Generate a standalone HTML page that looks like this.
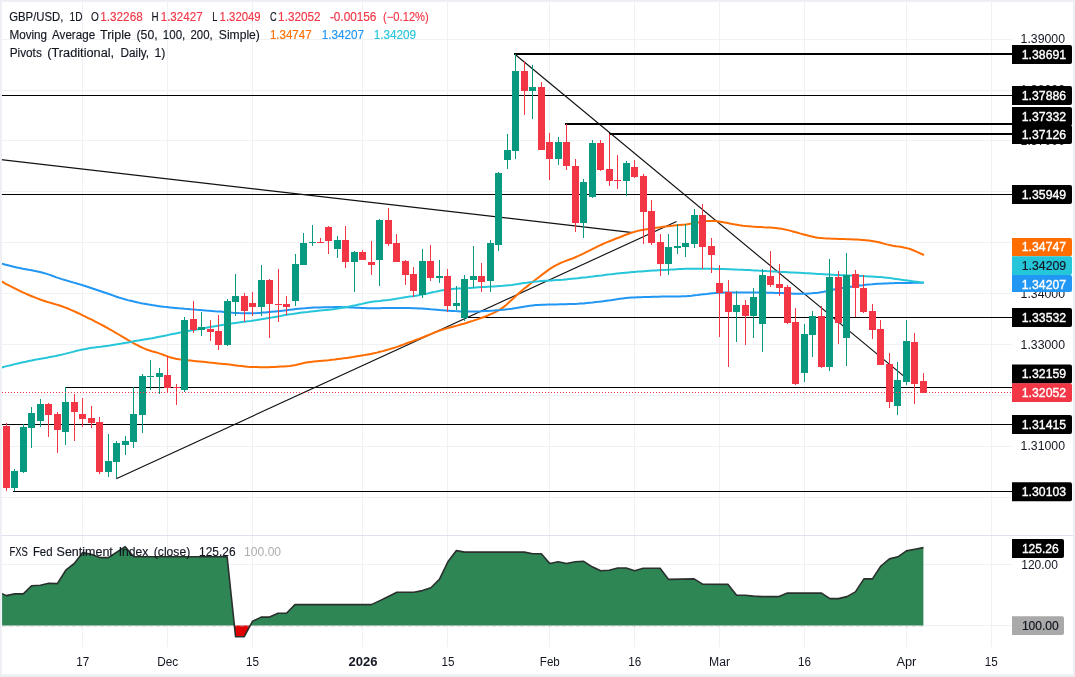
<!DOCTYPE html>
<html lang="en"><head><meta charset="utf-8"><title>GBP/USD 1D chart</title>
<style>html,body{margin:0;padding:0;background:#fff;overflow:hidden}svg{display:block}</style>
</head><body>
<svg width="1075" height="677" viewBox="0 0 1075 677" font-family='"Liberation Sans", Arial, sans-serif' font-size="12">
<rect x="0" y="0" width="1075" height="677" fill="#ffffff"/>
<path d="M82.5 2V646.5 M167.5 2V646.5 M252.5 2V646.5 M362.5 2V646.5 M447.5 2V646.5 M549.5 2V646.5 M634.5 2V646.5 M719.5 2V646.5 M804.5 2V646.5 M906.5 2V646.5 M991.5 2V646.5 M2 39.5H1012 M2 90.5H1012 M2 140.5H1012 M2 191.5H1012 M2 242.5H1012 M2 293.5H1012 M2 344.5H1012 M2 395.5H1012 M2 446.5H1012 M2 497.5H1012 M2 564.5H1012 M2 625.5H1012" stroke="#f0f1f5" stroke-width="1" fill="none" shape-rendering="crispEdges"/>
<rect x="0" y="535" width="1075" height="1" fill="#dfe2ec"/>
<clipPath id="cm"><rect x="1.7" y="1.8" width="1010.3" height="532.2"/></clipPath>
<g clip-path="url(#cm)">
<rect x="514" y="53" width="498" height="2" fill="#000" shape-rendering="crispEdges"/>
<rect x="0" y="95" width="1012" height="1" fill="#000" shape-rendering="crispEdges"/>
<rect x="565" y="123" width="447" height="2" fill="#000" shape-rendering="crispEdges"/>
<rect x="609" y="133" width="403" height="2" fill="#000" shape-rendering="crispEdges"/>
<rect x="0" y="194" width="1012" height="1" fill="#000" shape-rendering="crispEdges"/>
<rect x="464" y="317" width="548" height="1" fill="#000" shape-rendering="crispEdges"/>
<rect x="65" y="387" width="947" height="1" fill="#000" shape-rendering="crispEdges"/>
<rect x="0" y="424" width="1012" height="1" fill="#000" shape-rendering="crispEdges"/>
<rect x="13" y="491" width="999" height="1" fill="#000" shape-rendering="crispEdges"/>
<g stroke="#111" stroke-width="1.15" stroke-linecap="butt">
<line x1="116.3" y1="478.7" x2="676.5" y2="221.5"/>
<line x1="0" y1="159.5" x2="632.8" y2="232.6"/>
<line x1="514.9" y1="54.2" x2="903.5" y2="375.9"/>
</g>
<path d="M1.8 281.4 L4.8 283.3 L7.8 284.8 L10.8 286.4 L13.8 287.9 L16.8 289.4 L19.8 290.9 L22.8 292.3 L25.8 293.6 L28.8 295.0 L31.8 296.2 L34.8 297.4 L37.8 298.6 L40.8 299.7 L43.8 300.7 L46.8 301.7 L49.8 302.6 L52.8 303.5 L55.8 304.4 L58.8 305.3 L61.8 306.3 L64.8 307.4 L67.8 308.5 L70.8 309.8 L73.8 311.1 L76.8 312.5 L79.8 313.9 L82.8 315.4 L85.8 316.8 L88.8 318.3 L91.8 319.7 L94.8 321.3 L97.8 322.8 L100.8 324.4 L103.8 326.0 L106.8 327.6 L109.8 329.3 L112.8 331.0 L115.8 332.8 L118.8 334.5 L121.8 336.3 L124.8 338.1 L127.8 339.9 L130.8 341.6 L133.8 343.3 L136.8 344.9 L139.8 346.5 L142.8 347.9 L145.8 349.2 L148.8 350.2 L151.8 351.2 L154.8 352.0 L157.8 352.9 L160.8 353.9 L163.8 355.0 L166.8 356.1 L169.8 357.2 L172.8 358.0 L175.8 358.7 L178.8 359.2 L181.8 359.6 L184.8 360.0 L187.8 360.3 L190.8 360.6 L193.8 360.9 L196.8 361.2 L199.8 361.5 L202.8 361.8 L205.8 362.1 L208.8 362.5 L211.8 362.8 L214.8 363.1 L217.8 363.4 L220.8 363.7 L223.8 364.0 L226.8 364.3 L229.8 364.6 L232.8 365.0 L235.8 365.4 L238.8 365.8 L241.8 366.1 L244.8 366.4 L247.8 366.7 L250.8 366.9 L253.8 367.0 L256.8 367.1 L259.8 367.2 L262.8 367.2 L265.8 367.3 L268.8 367.2 L271.8 367.1 L274.8 367.0 L277.8 366.8 L280.8 366.6 L283.8 366.5 L286.8 366.3 L289.8 366.1 L292.8 365.6 L295.8 365.0 L298.8 364.2 L301.8 363.5 L304.8 362.8 L307.8 362.3 L310.8 361.9 L313.8 361.6 L316.8 361.3 L319.8 361.0 L322.8 360.7 L325.8 360.4 L328.8 360.2 L331.8 359.8 L334.8 359.5 L337.8 359.1 L340.8 358.7 L343.8 358.3 L346.8 357.9 L349.8 357.5 L352.8 357.1 L355.8 356.6 L358.8 356.1 L361.8 355.6 L364.8 355.1 L367.8 354.5 L370.8 353.9 L373.8 353.3 L376.8 352.6 L379.8 351.8 L382.8 351.1 L385.8 350.2 L388.8 349.4 L391.8 348.5 L394.8 347.6 L397.8 346.6 L400.8 345.5 L403.8 344.4 L406.8 343.3 L409.8 342.2 L412.8 341.1 L415.8 340.0 L418.8 338.9 L421.8 337.7 L424.8 336.5 L427.8 335.3 L430.8 334.1 L433.8 332.8 L436.8 331.6 L439.8 330.5 L442.8 329.5 L445.8 328.6 L448.8 327.8 L451.8 327.0 L454.8 326.2 L457.8 325.4 L460.8 324.5 L463.8 323.7 L466.8 322.8 L469.8 321.8 L472.8 320.9 L475.8 319.9 L478.8 318.9 L481.8 317.8 L484.8 316.7 L487.8 315.5 L490.8 314.2 L493.8 312.8 L496.8 311.3 L499.8 309.6 L502.8 307.6 L505.8 305.3 L508.8 302.6 L511.8 299.8 L514.8 297.0 L517.8 294.2 L520.8 291.5 L523.8 289.0 L526.8 286.6 L529.8 284.2 L532.8 281.8 L535.8 279.5 L538.8 277.2 L541.8 274.9 L544.8 272.6 L547.8 270.4 L550.8 268.3 L553.8 266.4 L556.8 264.8 L559.8 263.3 L562.8 262.1 L565.8 260.9 L568.8 259.8 L571.8 258.7 L574.8 257.5 L577.8 256.2 L580.8 254.8 L583.8 253.4 L586.8 251.9 L589.8 250.4 L592.8 248.9 L595.8 247.4 L598.8 245.9 L601.8 244.5 L604.8 243.2 L607.8 241.9 L610.8 240.7 L613.8 239.5 L616.8 238.3 L619.8 237.2 L622.8 236.0 L625.8 234.8 L628.8 233.7 L631.8 232.6 L634.8 231.7 L637.8 230.9 L640.8 230.2 L643.8 229.7 L646.8 229.2 L649.8 228.7 L652.8 228.3 L655.8 227.8 L658.8 227.4 L661.8 227.0 L664.8 226.6 L667.8 226.3 L670.8 225.9 L673.8 225.6 L676.8 225.3 L679.8 225.0 L682.8 224.7 L685.8 224.4 L688.8 224.0 L691.8 223.5 L694.8 223.0 L697.8 222.4 L700.8 221.9 L703.8 221.4 L706.8 221.1 L709.8 221.0 L712.8 221.0 L715.8 221.1 L718.8 221.5 L721.8 222.0 L724.8 222.5 L727.8 223.1 L730.8 223.7 L733.8 224.3 L736.8 224.8 L739.8 225.3 L742.8 225.7 L745.8 226.0 L748.8 226.2 L751.8 226.5 L754.8 226.7 L757.8 226.9 L760.8 227.1 L763.8 227.3 L766.8 227.4 L769.8 227.6 L772.8 227.8 L775.8 228.0 L778.8 228.4 L781.8 228.8 L784.8 229.4 L787.8 230.1 L790.8 230.9 L793.8 231.7 L796.8 232.5 L799.8 233.4 L802.8 234.2 L805.8 235.0 L808.8 235.8 L811.8 236.5 L814.8 237.2 L817.8 237.7 L820.8 238.0 L823.8 238.3 L826.8 238.4 L829.8 238.6 L832.8 238.7 L835.8 238.8 L838.8 238.9 L841.8 238.9 L844.8 239.1 L847.8 239.2 L850.8 239.3 L853.8 239.5 L856.8 239.6 L859.8 239.8 L862.8 240.0 L865.8 240.2 L868.8 240.5 L871.8 240.9 L874.8 241.4 L877.8 242.0 L880.8 242.8 L883.8 243.6 L886.8 244.4 L889.8 245.1 L892.8 245.7 L895.8 246.2 L898.8 246.6 L901.8 247.1 L904.8 247.7 L907.8 248.4 L910.8 249.3 L913.8 250.5 L916.8 251.8 L919.8 253.2 L922.8 254.4 L923.7 255.5" fill="none" stroke="#ff6d00" stroke-width="2" stroke-linejoin="round" stroke-linecap="butt"/>
<path d="M1.8 263.6 L4.8 264.5 L7.8 265.2 L10.8 266.0 L13.8 266.8 L16.8 267.5 L19.8 268.1 L22.8 268.7 L25.8 269.2 L28.8 269.8 L31.8 270.3 L34.8 270.9 L37.8 271.5 L40.8 272.2 L43.8 273.0 L46.8 273.9 L49.8 274.9 L52.8 276.0 L55.8 277.1 L58.8 278.1 L61.8 279.1 L64.8 280.0 L67.8 280.9 L70.8 281.8 L73.8 282.6 L76.8 283.5 L79.8 284.4 L82.8 285.3 L85.8 286.2 L88.8 287.2 L91.8 288.2 L94.8 289.2 L97.8 290.2 L100.8 291.2 L103.8 292.3 L106.8 293.3 L109.8 294.3 L112.8 295.4 L115.8 296.5 L118.8 297.5 L121.8 298.4 L124.8 299.3 L127.8 300.1 L130.8 300.8 L133.8 301.5 L136.8 302.2 L139.8 302.9 L142.8 303.5 L145.8 304.0 L148.8 304.6 L151.8 305.1 L154.8 305.5 L157.8 306.0 L160.8 306.4 L163.8 306.8 L166.8 307.1 L169.8 307.4 L172.8 307.7 L175.8 308.0 L178.8 308.3 L181.8 308.5 L184.8 308.8 L187.8 309.0 L190.8 309.3 L193.8 309.5 L196.8 309.8 L199.8 310.0 L202.8 310.2 L205.8 310.5 L208.8 310.7 L211.8 310.9 L214.8 311.2 L217.8 311.4 L220.8 311.6 L223.8 311.9 L226.8 312.1 L229.8 312.4 L232.8 312.7 L235.8 312.9 L238.8 313.1 L241.8 313.2 L244.8 313.3 L247.8 313.3 L250.8 313.2 L253.8 313.2 L256.8 313.1 L259.8 312.9 L262.8 312.6 L265.8 312.4 L268.8 312.1 L271.8 311.8 L274.8 311.5 L277.8 311.2 L280.8 310.9 L283.8 310.6 L286.8 310.2 L289.8 309.8 L292.8 309.4 L295.8 309.0 L298.8 308.7 L301.8 308.4 L304.8 308.2 L307.8 307.9 L310.8 307.7 L313.8 307.6 L316.8 307.5 L319.8 307.4 L322.8 307.3 L325.8 307.3 L328.8 307.2 L331.8 307.2 L334.8 307.1 L337.8 307.1 L340.8 307.1 L343.8 307.2 L346.8 307.2 L349.8 307.4 L352.8 307.5 L355.8 307.7 L358.8 307.8 L361.8 308.0 L364.8 308.1 L367.8 308.2 L370.8 308.2 L373.8 308.2 L376.8 308.2 L379.8 308.2 L382.8 308.1 L385.8 308.1 L388.8 308.1 L391.8 308.1 L394.8 308.0 L397.8 308.0 L400.8 308.0 L403.8 308.0 L406.8 308.1 L409.8 308.1 L412.8 308.2 L415.8 308.3 L418.8 308.5 L421.8 308.6 L424.8 308.8 L427.8 309.0 L430.8 309.3 L433.8 309.5 L436.8 309.8 L439.8 310.1 L442.8 310.3 L445.8 310.5 L448.8 310.7 L451.8 310.9 L454.8 311.1 L457.8 311.2 L460.8 311.4 L463.8 311.5 L466.8 311.5 L469.8 311.6 L472.8 311.5 L475.8 311.5 L478.8 311.4 L481.8 311.3 L484.8 311.1 L487.8 311.0 L490.8 310.8 L493.8 310.6 L496.8 310.3 L499.8 310.1 L502.8 309.8 L505.8 309.4 L508.8 309.1 L511.8 308.7 L514.8 308.2 L517.8 307.7 L520.8 307.2 L523.8 306.7 L526.8 306.2 L529.8 305.7 L532.8 305.4 L535.8 305.1 L538.8 304.9 L541.8 304.8 L544.8 304.7 L547.8 304.6 L550.8 304.5 L553.8 304.5 L556.8 304.4 L559.8 304.3 L562.8 304.2 L565.8 304.2 L568.8 304.1 L571.8 304.0 L574.8 303.9 L577.8 303.8 L580.8 303.6 L583.8 303.4 L586.8 303.1 L589.8 302.8 L592.8 302.5 L595.8 302.1 L598.8 301.8 L601.8 301.4 L604.8 301.0 L607.8 300.6 L610.8 300.2 L613.8 299.7 L616.8 299.3 L619.8 298.8 L622.8 298.4 L625.8 298.1 L628.8 297.8 L631.8 297.6 L634.8 297.4 L637.8 297.3 L640.8 297.2 L643.8 297.1 L646.8 297.0 L649.8 296.9 L652.8 296.8 L655.8 296.7 L658.8 296.7 L661.8 296.6 L664.8 296.6 L667.8 296.6 L670.8 296.5 L673.8 296.5 L676.8 296.4 L679.8 296.4 L682.8 296.3 L685.8 296.2 L688.8 295.9 L691.8 295.7 L694.8 295.3 L697.8 295.0 L700.8 294.6 L703.8 294.2 L706.8 293.9 L709.8 293.5 L712.8 293.2 L715.8 292.9 L718.8 292.8 L721.8 292.7 L724.8 292.6 L727.8 292.6 L730.8 292.6 L733.8 292.6 L736.8 292.5 L739.8 292.5 L742.8 292.5 L745.8 292.5 L748.8 292.5 L751.8 292.5 L754.8 292.5 L757.8 292.5 L760.8 292.6 L763.8 292.6 L766.8 292.7 L769.8 292.8 L772.8 292.8 L775.8 292.9 L778.8 293.0 L781.8 293.1 L784.8 293.3 L787.8 293.4 L790.8 293.5 L793.8 293.7 L796.8 293.8 L799.8 293.8 L802.8 293.8 L805.8 293.7 L808.8 293.5 L811.8 293.3 L814.8 293.0 L817.8 292.7 L820.8 292.3 L823.8 291.8 L826.8 291.1 L829.8 290.4 L832.8 289.7 L835.8 289.1 L838.8 288.6 L841.8 288.1 L844.8 287.7 L847.8 287.2 L850.8 286.8 L853.8 286.4 L856.8 286.0 L859.8 285.5 L862.8 285.2 L865.8 284.8 L868.8 284.5 L871.8 284.3 L874.8 284.0 L877.8 283.8 L880.8 283.7 L883.8 283.5 L886.8 283.4 L889.8 283.3 L892.8 283.2 L895.8 283.1 L898.8 283.0 L901.8 283.0 L904.8 282.9 L907.8 282.9 L910.8 282.9 L913.8 282.8 L916.8 282.8 L919.8 282.8 L922.8 282.8 L923.7 282.8" fill="none" stroke="#2196f3" stroke-width="2" stroke-linejoin="round" stroke-linecap="butt"/>
<path d="M1.8 367.5 L4.8 366.6 L7.8 365.9 L10.8 365.2 L13.8 364.4 L16.8 363.7 L19.8 363.0 L22.8 362.3 L25.8 361.7 L28.8 361.0 L31.8 360.4 L34.8 359.8 L37.8 359.3 L40.8 358.7 L43.8 358.2 L46.8 357.7 L49.8 357.1 L52.8 356.6 L55.8 356.0 L58.8 355.3 L61.8 354.6 L64.8 353.9 L67.8 353.1 L70.8 352.4 L73.8 351.6 L76.8 350.8 L79.8 350.1 L82.8 349.5 L85.8 348.9 L88.8 348.3 L91.8 347.8 L94.8 347.4 L97.8 347.0 L100.8 346.7 L103.8 346.3 L106.8 345.9 L109.8 345.5 L112.8 345.0 L115.8 344.5 L118.8 344.0 L121.8 343.5 L124.8 342.9 L127.8 342.4 L130.8 341.9 L133.8 341.3 L136.8 340.8 L139.8 340.3 L142.8 339.8 L145.8 339.3 L148.8 338.8 L151.8 338.3 L154.8 337.7 L157.8 337.1 L160.8 336.5 L163.8 335.9 L166.8 335.3 L169.8 334.6 L172.8 334.0 L175.8 333.4 L178.8 332.8 L181.8 332.3 L184.8 331.7 L187.8 331.1 L190.8 330.6 L193.8 330.0 L196.8 329.4 L199.8 328.9 L202.8 328.3 L205.8 327.8 L208.8 327.2 L211.8 326.7 L214.8 326.2 L217.8 325.7 L220.8 325.2 L223.8 324.7 L226.8 324.2 L229.8 323.8 L232.8 323.3 L235.8 322.9 L238.8 322.5 L241.8 322.1 L244.8 321.7 L247.8 321.3 L250.8 320.9 L253.8 320.4 L256.8 320.0 L259.8 319.5 L262.8 319.0 L265.8 318.5 L268.8 318.0 L271.8 317.5 L274.8 316.9 L277.8 316.4 L280.8 315.9 L283.8 315.3 L286.8 314.8 L289.8 314.3 L292.8 313.9 L295.8 313.4 L298.8 313.0 L301.8 312.6 L304.8 312.2 L307.8 311.9 L310.8 311.5 L313.8 311.2 L316.8 310.9 L319.8 310.6 L322.8 310.3 L325.8 310.0 L328.8 309.7 L331.8 309.4 L334.8 309.0 L337.8 308.5 L340.8 308.0 L343.8 307.5 L346.8 307.0 L349.8 306.4 L352.8 305.8 L355.8 305.2 L358.8 304.5 L361.8 303.9 L364.8 303.2 L367.8 302.6 L370.8 302.1 L373.8 301.6 L376.8 301.2 L379.8 300.9 L382.8 300.5 L385.8 300.2 L388.8 299.9 L391.8 299.4 L394.8 299.0 L397.8 298.5 L400.8 298.1 L403.8 297.6 L406.8 297.1 L409.8 296.6 L412.8 296.2 L415.8 295.7 L418.8 295.2 L421.8 294.6 L424.8 294.0 L427.8 293.4 L430.8 292.7 L433.8 292.1 L436.8 291.4 L439.8 290.8 L442.8 290.2 L445.8 289.8 L448.8 289.4 L451.8 289.1 L454.8 288.8 L457.8 288.6 L460.8 288.4 L463.8 288.3 L466.8 288.1 L469.8 287.9 L472.8 287.7 L475.8 287.5 L478.8 287.3 L481.8 287.1 L484.8 287.0 L487.8 286.8 L490.8 286.6 L493.8 286.4 L496.8 286.2 L499.8 286.0 L502.8 285.8 L505.8 285.5 L508.8 285.2 L511.8 284.9 L514.8 284.5 L517.8 284.1 L520.8 283.6 L523.8 283.1 L526.8 282.7 L529.8 282.2 L532.8 281.9 L535.8 281.5 L538.8 281.3 L541.8 281.0 L544.8 280.8 L547.8 280.7 L550.8 280.5 L553.8 280.3 L556.8 280.1 L559.8 279.9 L562.8 279.7 L565.8 279.4 L568.8 279.1 L571.8 278.8 L574.8 278.5 L577.8 278.2 L580.8 277.8 L583.8 277.5 L586.8 277.2 L589.8 276.8 L592.8 276.5 L595.8 276.1 L598.8 275.7 L601.8 275.4 L604.8 275.0 L607.8 274.6 L610.8 274.3 L613.8 273.9 L616.8 273.6 L619.8 273.3 L622.8 273.0 L625.8 272.7 L628.8 272.4 L631.8 272.1 L634.8 271.9 L637.8 271.6 L640.8 271.4 L643.8 271.2 L646.8 271.0 L649.8 270.8 L652.8 270.6 L655.8 270.4 L658.8 270.2 L661.8 270.0 L664.8 269.9 L667.8 269.7 L670.8 269.6 L673.8 269.4 L676.8 269.2 L679.8 269.1 L682.8 269.0 L685.8 268.8 L688.8 268.8 L691.8 268.7 L694.8 268.7 L697.8 268.7 L700.8 268.7 L703.8 268.7 L706.8 268.8 L709.8 268.8 L712.8 268.8 L715.8 268.9 L718.8 269.0 L721.8 269.0 L724.8 269.1 L727.8 269.2 L730.8 269.3 L733.8 269.4 L736.8 269.6 L739.8 269.7 L742.8 269.8 L745.8 270.0 L748.8 270.1 L751.8 270.3 L754.8 270.4 L757.8 270.6 L760.8 270.7 L763.8 270.9 L766.8 271.1 L769.8 271.2 L772.8 271.4 L775.8 271.6 L778.8 271.7 L781.8 271.9 L784.8 272.0 L787.8 272.2 L790.8 272.4 L793.8 272.5 L796.8 272.7 L799.8 272.8 L802.8 273.0 L805.8 273.2 L808.8 273.3 L811.8 273.5 L814.8 273.7 L817.8 273.9 L820.8 274.0 L823.8 274.2 L826.8 274.4 L829.8 274.5 L832.8 274.7 L835.8 274.9 L838.8 275.0 L841.8 275.2 L844.8 275.3 L847.8 275.5 L850.8 275.6 L853.8 275.7 L856.8 275.8 L859.8 276.0 L862.8 276.1 L865.8 276.2 L868.8 276.4 L871.8 276.5 L874.8 276.7 L877.8 276.9 L880.8 277.1 L883.8 277.4 L886.8 277.7 L889.8 278.1 L892.8 278.5 L895.8 278.9 L898.8 279.3 L901.8 279.8 L904.8 280.2 L907.8 280.6 L910.8 281.0 L913.8 281.4 L916.8 281.8 L919.8 282.2 L922.8 282.5 L923.7 282.8" fill="none" stroke="#26c6da" stroke-width="2" stroke-linejoin="round" stroke-linecap="butt"/>
<path d="M14 469h1V491h-1ZM23 424h1V473h-1ZM31 407h1V448h-1ZM40 399h1V427h-1ZM65 387h1V445h-1ZM108 434h1V477h-1ZM116 441h1V478h-1ZM125 436h1V455h-1ZM133 387h1V448h-1ZM142 374h1V433h-1ZM150 360h1V390h-1ZM159 368h1V394h-1ZM184 317h1V392h-1ZM201 312h1V336h-1ZM227 299h1V346h-1ZM235 274h1V316h-1ZM261 265h1V316h-1ZM295 254h1V306h-1ZM303 233h1V265h-1ZM312 225h1V246h-1ZM337 236h1V258h-1ZM354 251h1V292h-1ZM379 219h1V286h-1ZM422 249h1V298h-1ZM439 260h1V283h-1ZM456 286h1V310h-1ZM464 275h1V321h-1ZM473 246h1V288h-1ZM490 240h1V292h-1ZM498 172h1V251h-1ZM507 134h1V169h-1ZM515 54h1V159h-1ZM532 65h1V119h-1ZM558 137h1V165h-1ZM583 179h1V238h-1ZM592 140h1V198h-1ZM626 161h1V196h-1ZM668 234h1V275h-1ZM677 224h1V254h-1ZM685 224h1V257h-1ZM694 209h1V248h-1ZM736 291h1V342h-1ZM753 288h1V338h-1ZM762 269h1V352h-1ZM804 324h1V382h-1ZM812 311h1V357h-1ZM829 259h1V371h-1ZM846 253h1V366h-1ZM897 362h1V415h-1ZM906 320h1V385h-1ZM11 471h7V488h-7ZM20 427h7V472h-7ZM28 413h7V428h-7ZM37 404h7V421h-7ZM62 402h7V432h-7ZM105 461h7V472h-7ZM113 443h7V462h-7ZM122 441h7V445h-7ZM130 414h7V442h-7ZM139 376h7V415h-7ZM147 376h7V377h-7ZM156 373h7V377h-7ZM181 320h7V390h-7ZM198 327h7V330h-7ZM224 301h7V345h-7ZM232 296h7V302h-7ZM258 280h7V307h-7ZM292 264h7V301h-7ZM300 243h7V265h-7ZM309 242h7V243h-7ZM334 240h7V249h-7ZM351 252h7V262h-7ZM376 220h7V260h-7ZM419 261h7V295h-7ZM436 276h7V278h-7ZM453 303h7V306h-7ZM461 279h7V318h-7ZM470 276h7V280h-7ZM487 243h7V281h-7ZM495 173h7V245h-7ZM504 150h7V160h-7ZM512 71h7V151h-7ZM529 87h7V91h-7ZM555 142h7V159h-7ZM580 182h7V223h-7ZM589 143h7V197h-7ZM623 163h7V181h-7ZM665 247h7V264h-7ZM674 246h7V248h-7ZM682 243h7V247h-7ZM691 215h7V244h-7ZM733 305h7V312h-7ZM750 297h7V316h-7ZM759 275h7V324h-7ZM801 334h7V373h-7ZM809 316h7V335h-7ZM826 277h7V367h-7ZM843 275h7V338h-7ZM894 380h7V406h-7ZM903 341h7V382h-7Z" fill="#089981" shape-rendering="crispEdges"/>
<path d="M6 423h1V491h-1ZM48 403h1V437h-1ZM57 412h1V453h-1ZM74 394h1V441h-1ZM82 398h1V427h-1ZM91 406h1V428h-1ZM99 417h1V474h-1ZM167 356h1V392h-1ZM176 384h1V405h-1ZM193 301h1V333h-1ZM210 320h1V341h-1ZM218 315h1V350h-1ZM244 293h1V322h-1ZM252 292h1V316h-1ZM269 279h1V338h-1ZM278 269h1V322h-1ZM286 296h1V315h-1ZM320 238h1V243h-1ZM328 226h1V254h-1ZM345 226h1V268h-1ZM362 250h1V260h-1ZM371 241h1V275h-1ZM388 208h1V246h-1ZM396 234h1V262h-1ZM405 260h1V285h-1ZM413 267h1V297h-1ZM430 245h1V281h-1ZM447 269h1V312h-1ZM481 263h1V292h-1ZM524 61h1V115h-1ZM541 82h1V150h-1ZM549 133h1V180h-1ZM566 124h1V170h-1ZM575 159h1V232h-1ZM600 140h1V171h-1ZM609 134h1V186h-1ZM617 155h1V189h-1ZM634 160h1V178h-1ZM643 174h1V244h-1ZM651 200h1V245h-1ZM660 234h1V276h-1ZM702 204h1V269h-1ZM711 238h1V273h-1ZM719 265h1V337h-1ZM728 280h1V367h-1ZM745 300h1V345h-1ZM770 251h1V287h-1ZM779 264h1V296h-1ZM787 285h1V324h-1ZM795 308h1V385h-1ZM821 306h1V368h-1ZM838 271h1V344h-1ZM855 270h1V317h-1ZM863 275h1V313h-1ZM872 304h1V339h-1ZM880 320h1V365h-1ZM889 353h1V408h-1ZM914 333h1V404h-1ZM923 373h1V393h-1ZM3 426h7V488h-7ZM45 404h7V415h-7ZM54 414h7V430h-7ZM71 402h7V412h-7ZM79 414h7V419h-7ZM88 418h7V423h-7ZM96 422h7V472h-7ZM164 375h7V388h-7ZM173 387h7V388h-7ZM190 319h7V330h-7ZM207 329h7V332h-7ZM215 331h7V345h-7ZM241 296h7V311h-7ZM249 303h7V307h-7ZM266 280h7V304h-7ZM275 304h7V305h-7ZM283 304h7V307h-7ZM317 242h7V243h-7ZM325 227h7V241h-7ZM342 240h7V262h-7ZM359 252h7V260h-7ZM368 262h7V265h-7ZM385 220h7V244h-7ZM393 243h7V262h-7ZM402 261h7V275h-7ZM410 274h7V291h-7ZM427 261h7V278h-7ZM444 276h7V306h-7ZM478 276h7V282h-7ZM521 71h7V91h-7ZM538 87h7V150h-7ZM546 142h7V159h-7ZM563 142h7V166h-7ZM572 166h7V223h-7ZM597 143h7V170h-7ZM606 169h7V181h-7ZM614 180h7V181h-7ZM631 167h7V177h-7ZM640 176h7V212h-7ZM648 211h7V243h-7ZM657 242h7V264h-7ZM699 215h7V247h-7ZM708 246h7V255h-7ZM716 283h7V293h-7ZM725 292h7V312h-7ZM742 305h7V316h-7ZM767 276h7V285h-7ZM776 284h7V288h-7ZM784 287h7V323h-7ZM792 322h7V384h-7ZM818 316h7V367h-7ZM835 277h7V323h-7ZM852 274h7V288h-7ZM860 288h7V312h-7ZM869 311h7V330h-7ZM877 329h7V365h-7ZM886 364h7V402h-7ZM911 342h7V384h-7ZM920 381h7V393h-7Z" fill="#f23645" shape-rendering="crispEdges"/>
<line x1="2" y1="392.5" x2="1012" y2="392.5" stroke="#f23645" stroke-width="1" stroke-dasharray="1 2" shape-rendering="crispEdges"/>
</g>
<path d="M2.1 593.6 L6.3 595.6 L14.8 593.9 L23.3 593.9 L31.8 585.7 L40.3 585.2 L48.8 583.2 L57.3 583.6 L65.8 570.2 L74.3 563.5 L82.7 552.6 L91.2 554.3 L99.7 557.6 L108.2 557.6 L116.7 552.2 L125.2 546.7 L133.7 556.8 L227.1 556.8 L234.4 625.5 L235.6 625.5 L244.1 625.5 L250.2 625.5 L252.6 621.2 L261.1 617.1 L269.6 617.1 L278.0 613.2 L286.5 613.2 L295.0 604.6 L371.4 604.6 L379.9 600.6 L388.4 596.5 L396.9 592.3 L413.9 592.3 L422.4 590.6 L430.9 587.7 L439.4 579.4 L447.9 561.8 L456.4 550.6 L464.8 552.1 L524.3 552.1 L532.8 553.8 L541.3 553.8 L549.8 563.5 L558.2 561.8 L566.7 563.5 L575.2 561.8 L583.7 561.3 L592.2 566.8 L600.7 570.7 L609.2 570.2 L617.7 568.0 L626.2 568.0 L634.7 570.7 L643.2 568.2 L660.1 568.2 L668.6 579.4 L694.1 578.9 L702.6 584.1 L728.1 584.4 L736.6 595.3 L745.0 595.3 L753.5 596.1 L762.0 596.6 L779.0 596.6 L787.5 593.1 L821.5 593.1 L830.0 598.6 L838.4 598.6 L846.9 596.6 L855.4 591.9 L863.9 578.9 L872.4 578.9 L880.9 566.0 L889.4 558.9 L897.9 556.8 L906.4 550.9 L914.9 549.2 L923.4 547.6 L923.4 625.5 L2.1 625.5 Z" fill="#2e8655"/>
<path d="M234.4 625.5 L235.6 636.8 L244.1 636.8 L250.2 625.5 Z" fill="#e00000"/>
<line x1="2" y1="626" x2="923" y2="626" stroke="#b4b6bb" stroke-opacity="0.7" stroke-width="1" stroke-dasharray="4 3"/>
<path d="M2.1 593.6 L6.3 595.6 L14.8 593.9 L23.3 593.9 L31.8 585.7 L40.3 585.2 L48.8 583.2 L57.3 583.6 L65.8 570.2 L74.3 563.5 L82.7 552.6 L91.2 554.3 L99.7 557.6 L108.2 557.6 L116.7 552.2 L125.2 546.7 L133.7 556.8 L227.1 556.8 L235.6 636.8 L244.1 636.8 L252.6 621.2 L261.1 617.1 L269.6 617.1 L278.0 613.2 L286.5 613.2 L295.0 604.6 L371.4 604.6 L379.9 600.6 L388.4 596.5 L396.9 592.3 L413.9 592.3 L422.4 590.6 L430.9 587.7 L439.4 579.4 L447.9 561.8 L456.4 550.6 L464.8 552.1 L524.3 552.1 L532.8 553.8 L541.3 553.8 L549.8 563.5 L558.2 561.8 L566.7 563.5 L575.2 561.8 L583.7 561.3 L592.2 566.8 L600.7 570.7 L609.2 570.2 L617.7 568.0 L626.2 568.0 L634.7 570.7 L643.2 568.2 L660.1 568.2 L668.6 579.4 L694.1 578.9 L702.6 584.1 L728.1 584.4 L736.6 595.3 L745.0 595.3 L753.5 596.1 L762.0 596.6 L779.0 596.6 L787.5 593.1 L821.5 593.1 L830.0 598.6 L838.4 598.6 L846.9 596.6 L855.4 591.9 L863.9 578.9 L872.4 578.9 L880.9 566.0 L889.4 558.9 L897.9 556.8 L906.4 550.9 L914.9 549.2 L923.4 547.6" fill="none" stroke="#2a302d" stroke-width="1.6" stroke-linejoin="round"/>
<text x="9.2" y="21" fill="#131722" text-anchor="start" textLength="54.2" lengthAdjust="spacingAndGlyphs" stroke="#131722" stroke-width="0.15">GBP/USD,</text>
<text x="69.6" y="21" fill="#131722" text-anchor="start" textLength="12.9" lengthAdjust="spacingAndGlyphs" stroke="#131722" stroke-width="0.15">1D</text>
<text x="91.1" y="21" fill="#131722" text-anchor="start" textLength="7.8" lengthAdjust="spacingAndGlyphs" stroke="#131722" stroke-width="0.15">O</text>
<text x="151.5" y="21" fill="#131722" text-anchor="start" textLength="7.1" lengthAdjust="spacingAndGlyphs" stroke="#131722" stroke-width="0.15">H</text>
<text x="212.3" y="21" fill="#131722" text-anchor="start" textLength="5.1" lengthAdjust="spacingAndGlyphs" stroke="#131722" stroke-width="0.15">L</text>
<text x="269.9" y="21" fill="#131722" text-anchor="start" textLength="6.7" lengthAdjust="spacingAndGlyphs" stroke="#131722" stroke-width="0.15">C</text>
<text x="100.3" y="21" fill="#f23645" text-anchor="start" textLength="42.4" lengthAdjust="spacingAndGlyphs" stroke="#f23645" stroke-width="0.15">1.32268</text>
<text x="160.7" y="21" fill="#f23645" text-anchor="start" textLength="41.9" lengthAdjust="spacingAndGlyphs" stroke="#f23645" stroke-width="0.15">1.32427</text>
<text x="219.6" y="21" fill="#f23645" text-anchor="start" textLength="41.1" lengthAdjust="spacingAndGlyphs" stroke="#f23645" stroke-width="0.15">1.32049</text>
<text x="278.1" y="21" fill="#f23645" text-anchor="start" textLength="42.5" lengthAdjust="spacingAndGlyphs" stroke="#f23645" stroke-width="0.15">1.32052</text>
<text x="329.9" y="21" fill="#f23645" text-anchor="start" textLength="46.5" lengthAdjust="spacingAndGlyphs" stroke="#f23645" stroke-width="0.15">-0.00156</text>
<text x="383.1" y="21" fill="#f23645" text-anchor="start" textLength="45.7" lengthAdjust="spacingAndGlyphs" stroke="#f23645" stroke-width="0.15">(−0.12%)</text>
<text x="9.4" y="38.6" fill="#131722" text-anchor="start" textLength="37.7" lengthAdjust="spacingAndGlyphs" stroke="#131722" stroke-width="0.15">Moving</text>
<text x="52.1" y="38.6" fill="#131722" text-anchor="start" textLength="43.0" lengthAdjust="spacingAndGlyphs" stroke="#131722" stroke-width="0.15">Average</text>
<text x="100" y="38.6" fill="#131722" text-anchor="start" textLength="30.9" lengthAdjust="spacingAndGlyphs" stroke="#131722" stroke-width="0.15">Triple</text>
<text x="136.5" y="38.6" fill="#131722" text-anchor="start" textLength="21.1" lengthAdjust="spacingAndGlyphs" stroke="#131722" stroke-width="0.15">(50,</text>
<text x="162.8" y="38.6" fill="#131722" text-anchor="start" textLength="22.5" lengthAdjust="spacingAndGlyphs" stroke="#131722" stroke-width="0.15">100,</text>
<text x="190.5" y="38.6" fill="#131722" text-anchor="start" textLength="22.2" lengthAdjust="spacingAndGlyphs" stroke="#131722" stroke-width="0.15">200,</text>
<text x="218.8" y="38.6" fill="#131722" text-anchor="start" textLength="41.1" lengthAdjust="spacingAndGlyphs" stroke="#131722" stroke-width="0.15">Simple)</text>
<text x="269.9" y="38.6" fill="#ff6d00" text-anchor="start" textLength="41.7" lengthAdjust="spacingAndGlyphs" stroke="#ff6d00" stroke-width="0.15">1.34747</text>
<text x="321.7" y="38.6" fill="#2196f3" text-anchor="start" textLength="42.4" lengthAdjust="spacingAndGlyphs" stroke="#2196f3" stroke-width="0.15">1.34207</text>
<text x="373.7" y="38.6" fill="#26c6da" text-anchor="start" textLength="42.4" lengthAdjust="spacingAndGlyphs" stroke="#26c6da" stroke-width="0.15">1.34209</text>
<text x="9.7" y="56.5" fill="#131722" text-anchor="start" textLength="32.1" lengthAdjust="spacingAndGlyphs" stroke="#131722" stroke-width="0.15">Pivots</text>
<text x="47.3" y="56.5" fill="#131722" text-anchor="start" textLength="66.8" lengthAdjust="spacingAndGlyphs" stroke="#131722" stroke-width="0.15">(Traditional,</text>
<text x="120.5" y="56.5" fill="#131722" text-anchor="start" textLength="28.6" lengthAdjust="spacingAndGlyphs" stroke="#131722" stroke-width="0.15">Daily,</text>
<text x="154.4" y="56.5" fill="#131722" text-anchor="start" textLength="10.9" lengthAdjust="spacingAndGlyphs" stroke="#131722" stroke-width="0.15">1)</text>
<text x="9.4" y="556" fill="#131722" text-anchor="start" textLength="18.4" lengthAdjust="spacingAndGlyphs" stroke="#131722" stroke-width="0.15">FXS</text>
<text x="32.9" y="556" fill="#131722" text-anchor="start" textLength="19.7" lengthAdjust="spacingAndGlyphs" stroke="#131722" stroke-width="0.15">Fed</text>
<text x="56.6" y="556" fill="#131722" text-anchor="start" textLength="56.2" lengthAdjust="spacingAndGlyphs" stroke="#131722" stroke-width="0.15">Sentiment</text>
<text x="118.7" y="556" fill="#131722" text-anchor="start" textLength="29.7" lengthAdjust="spacingAndGlyphs" stroke="#131722" stroke-width="0.15">Index</text>
<text x="153.8" y="556" fill="#131722" text-anchor="start" textLength="36.4" lengthAdjust="spacingAndGlyphs" stroke="#131722" stroke-width="0.15">(close)</text>
<text x="199.1" y="556" fill="#131722" text-anchor="start" textLength="36.4" lengthAdjust="spacingAndGlyphs" stroke="#131722" stroke-width="0.15">125.26</text>
<text x="244.1" y="556" fill="#adadad" text-anchor="start" textLength="37.0" lengthAdjust="spacingAndGlyphs">100.00</text>
<text x="76.2" y="665.7" fill="#131722" textLength="13" lengthAdjust="spacingAndGlyphs">17</text>
<text x="157.2" y="665.7" fill="#131722" textLength="21" lengthAdjust="spacingAndGlyphs">Dec</text>
<text x="246.1" y="665.7" fill="#131722" textLength="13" lengthAdjust="spacingAndGlyphs">15</text>
<text x="348.5" y="665.7" fill="#131722" textLength="29" lengthAdjust="spacingAndGlyphs" font-weight="bold">2026</text>
<text x="441.4" y="665.7" fill="#131722" textLength="13" lengthAdjust="spacingAndGlyphs">15</text>
<text x="539.8" y="665.7" fill="#131722" textLength="20" lengthAdjust="spacingAndGlyphs">Feb</text>
<text x="628.2" y="665.7" fill="#131722" textLength="13" lengthAdjust="spacingAndGlyphs">16</text>
<text x="709.1" y="665.7" fill="#131722" textLength="21" lengthAdjust="spacingAndGlyphs">Mar</text>
<text x="798.0" y="665.7" fill="#131722" textLength="13" lengthAdjust="spacingAndGlyphs">16</text>
<text x="896.4" y="665.7" fill="#131722" textLength="20" lengthAdjust="spacingAndGlyphs">Apr</text>
<text x="984.8" y="665.7" fill="#131722" textLength="13" lengthAdjust="spacingAndGlyphs">15</text>
<text x="1020.6" y="43.2" fill="#131722" text-anchor="start" textLength="44.4" lengthAdjust="spacingAndGlyphs">1.39000</text>
<text x="1020.6" y="94.1" fill="#131722" text-anchor="start" textLength="44.4" lengthAdjust="spacingAndGlyphs">1.38000</text>
<text x="1020.6" y="145.0" fill="#131722" text-anchor="start" textLength="44.4" lengthAdjust="spacingAndGlyphs">1.37000</text>
<text x="1020.6" y="297.6" fill="#131722" text-anchor="start" textLength="44.4" lengthAdjust="spacingAndGlyphs">1.34000</text>
<text x="1020.6" y="348.5" fill="#131722" text-anchor="start" textLength="44.4" lengthAdjust="spacingAndGlyphs">1.33000</text>
<text x="1020.6" y="450.2" fill="#131722" text-anchor="start" textLength="44.4" lengthAdjust="spacingAndGlyphs">1.31000</text>
<text x="1021.2" y="569.0" fill="#131722" text-anchor="start" textLength="36.8" lengthAdjust="spacingAndGlyphs">120.00</text>
<path d="M1012 45h58a2 2 0 0 1 2 2v15a2 2 0 0 1 -2 2h-58z" fill="#000"/>
<text x="1021.8" y="58.8" fill="#fff" text-anchor="start" textLength="44.3" lengthAdjust="spacingAndGlyphs" stroke="#fff" stroke-width="0.35">1.38691</text>
<path d="M1012 86h58a2 2 0 0 1 2 2v15a2 2 0 0 1 -2 2h-58z" fill="#000"/>
<text x="1021.8" y="99.8" fill="#fff" text-anchor="start" textLength="44.3" lengthAdjust="spacingAndGlyphs" stroke="#fff" stroke-width="0.35">1.37886</text>
<path d="M1012 107h58a2 2 0 0 1 2 2v15a2 2 0 0 1 -2 2h-58z" fill="#000"/>
<text x="1021.8" y="120.8" fill="#fff" text-anchor="start" textLength="44.3" lengthAdjust="spacingAndGlyphs" stroke="#fff" stroke-width="0.35">1.37332</text>
<path d="M1012 125h58a2 2 0 0 1 2 2v15a2 2 0 0 1 -2 2h-58z" fill="#000"/>
<text x="1021.8" y="138.8" fill="#fff" text-anchor="start" textLength="44.3" lengthAdjust="spacingAndGlyphs" stroke="#fff" stroke-width="0.35">1.37126</text>
<path d="M1012 185h58a2 2 0 0 1 2 2v15a2 2 0 0 1 -2 2h-58z" fill="#000"/>
<text x="1021.8" y="198.8" fill="#fff" text-anchor="start" textLength="44.3" lengthAdjust="spacingAndGlyphs" stroke="#fff" stroke-width="0.35">1.35949</text>
<path d="M1012 238h58a2 2 0 0 1 2 2v14.2a2 2 0 0 1 -2 2h-58z" fill="#ff6d00"/>
<text x="1021.8" y="251.4" fill="#fff" text-anchor="start" textLength="44.3" lengthAdjust="spacingAndGlyphs" stroke="#fff" stroke-width="0.35">1.34747</text>
<path d="M1012 275h58a2 2 0 0 1 2 2v13a2 2 0 0 1 -2 2h-58z" fill="#2196f3"/>
<text x="1021.8" y="288.8" fill="#fff" text-anchor="start" textLength="44.3" lengthAdjust="spacingAndGlyphs" stroke="#fff" stroke-width="0.35">1.34207</text>
<path d="M1012 256.2h58a2 2 0 0 1 2 2v14.8a2 2 0 0 1 -2 2h-58z" fill="#26c6da"/>
<text x="1021.8" y="269.9" fill="#131722" text-anchor="start" textLength="44.3" lengthAdjust="spacingAndGlyphs" stroke="#131722" stroke-width="0.2">1.34209</text>
<path d="M1012 308h58a2 2 0 0 1 2 2v15a2 2 0 0 1 -2 2h-58z" fill="#000"/>
<text x="1021.8" y="321.8" fill="#fff" text-anchor="start" textLength="44.3" lengthAdjust="spacingAndGlyphs" stroke="#fff" stroke-width="0.35">1.33532</text>
<path d="M1012 364.5h58a2 2 0 0 1 2 2v15a2 2 0 0 1 -2 2h-58z" fill="#000"/>
<text x="1021.8" y="378.3" fill="#fff" text-anchor="start" textLength="44.3" lengthAdjust="spacingAndGlyphs" stroke="#fff" stroke-width="0.35">1.32159</text>
<path d="M1012 383.3h58a2 2 0 0 1 2 2v14.7a2 2 0 0 1 -2 2h-58z" fill="#f23645"/>
<text x="1021.8" y="397.0" fill="#fff" text-anchor="start" textLength="44.3" lengthAdjust="spacingAndGlyphs" stroke="#fff" stroke-width="0.35">1.32052</text>
<path d="M1012 415h58a2 2 0 0 1 2 2v15a2 2 0 0 1 -2 2h-58z" fill="#000"/>
<text x="1021.8" y="428.8" fill="#fff" text-anchor="start" textLength="44.3" lengthAdjust="spacingAndGlyphs" stroke="#fff" stroke-width="0.35">1.31415</text>
<path d="M1012 482.3h58a2 2 0 0 1 2 2v15a2 2 0 0 1 -2 2h-58z" fill="#000"/>
<text x="1021.8" y="496.1" fill="#fff" text-anchor="start" textLength="44.3" lengthAdjust="spacingAndGlyphs" stroke="#fff" stroke-width="0.35">1.30103</text>
<path d="M1012 539h50a2 2 0 0 1 2 2v15a2 2 0 0 1 -2 2h-50z" fill="#000"/>
<text x="1021.9" y="552.8" fill="#fff" text-anchor="start" textLength="36.9" lengthAdjust="spacingAndGlyphs" stroke="#fff" stroke-width="0.35">125.26</text>
<path d="M1012 616.3h50a2 2 0 0 1 2 2v14.7a2 2 0 0 1 -2 2h-50z" fill="#a8a9a8"/>
<text x="1021.9" y="629.9" fill="#131722" text-anchor="start" textLength="36.9" lengthAdjust="spacingAndGlyphs" stroke="#131722" stroke-width="0.2">100.00</text>
<rect x="0" y="0" width="1.7" height="677" fill="#eceef4"/>
<rect x="0" y="0" width="1075" height="1.8" fill="#eceef4"/>
<rect x="1073.2" y="0" width="1.8" height="677" fill="#eceef4"/>
<rect x="0" y="674.4" width="1075" height="2.6" fill="#eceef4"/>
</svg>
</body></html>
